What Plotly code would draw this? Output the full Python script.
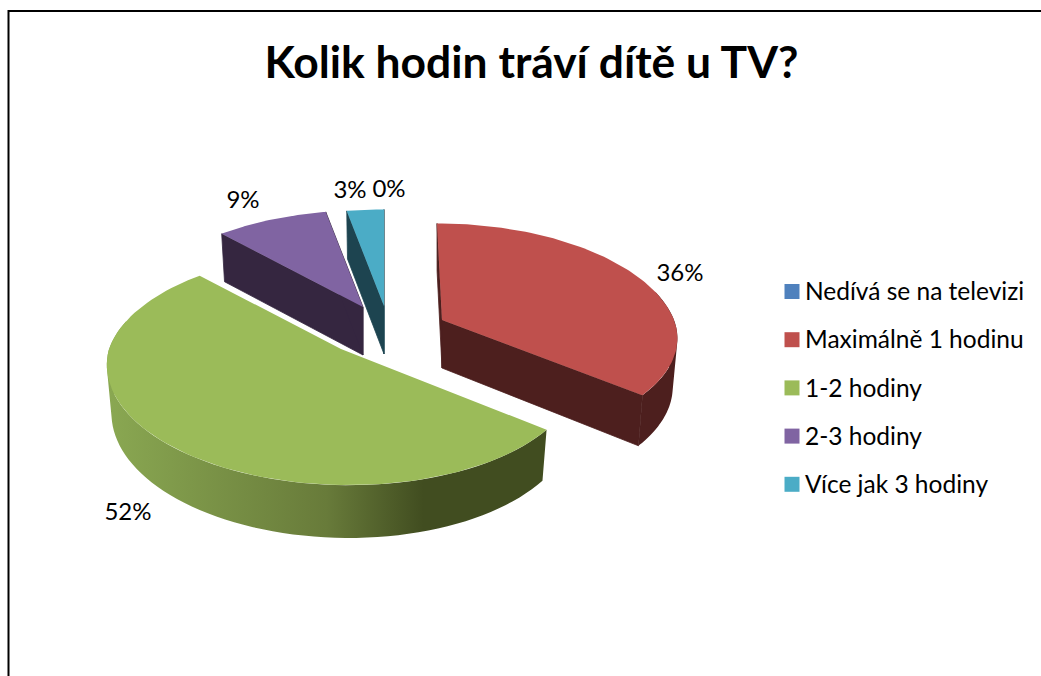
import math
import plotly.graph_objects as go

# ---- data ----
title_text = "Kolik hodin tráví dítě u TV?"
categories = ["Nedívá se na televizi", "Maximálně 1 hodinu", "1-2 hodiny", "2-3 hodiny", "Více jak 3 hodiny"]
values = [0, 36, 52, 9, 3]

# ---- styles / layout ----
top_colors = ["#4f81bd", "#bf504d", "#9bbb59", "#8064a2", "#4bacc6"]
wall_colors = ["#27405e", "#4d1f1e", "#414d20", "#352640", "#1d4450"]
FONT = "Lato"
INK = "#000000"
A, B, K = 232.0, 113.0, 0.17      # projected radii and perspective strength
DEPTH = 48.0
# per-slice screen apex after explosion: x, y, far lean, near lean, near y-scale
apex = {1: (442, 320, 5, 0, 0.93), 2: (341, 349, 0, 8, 1.0), 3: (363, 307, 0, 0, 1.0), 4: (384, 306, 0, 0, 1.0)}
label_pos = {0: (389, 191), 1: (680, 275), 2: (128, 514), 3: (243, 202), 4: (350, 192)}
legend_x, legend_text_x, legend_y0, legend_dy = 792, 805, 291.5, 48.2
legend_text_dy = 2.5

def rim(i, deg):
    ax, ay, far, near, ys = apex[i]
    t = math.radians(deg)
    X, Y = math.sin(t), -math.cos(t)
    s = 1 / (1 - K * Y)
    return (ax + A * X * s + far * min(Y, 0) + near * max(Y, 0),
            ay + B * Y * s * (ys if Y > 0 else 1))

def drop(i, pt):
    ax, ay = apex[i][:2]
    near = max((pt[1] - ay) / B, 0)
    return ax + (pt[0] - ax) * 0.98, pt[1] + DEPTH + 4 * near

def arc(i, a0, a1, n=90):
    return [rim(i, a0 + (a1 - a0) * j / n) for j in range(n + 1)]

def poly(pts, color, edge=0):
    xs = [p[0] for p in pts] + [pts[0][0]]
    ys = [p[1] for p in pts] + [pts[0][1]]
    return go.Scatter(x=xs, y=ys, mode="lines", fill="toself", line=dict(width=edge, color=color),
                      fillcolor=color, hoverinfo="skip", showlegend=False)

def strip(i, a0, a1, color, gradient=None):
    """Outer wall as one path of overlapping quads, all wound the same way."""
    pts = arc(i, a0, a1, n=70)
    xs, ys = [], []
    for p, q in zip(pts[:-1], pts[1:]):
        quad = [p, q, drop(i, q), drop(i, p)]
        area = sum(quad[j][0] * quad[(j + 1) % 4][1] - quad[(j + 1) % 4][0] * quad[j][1] for j in range(4))
        if area < 0:
            quad.reverse()
        xs += [c[0] for c in quad] + [quad[0][0], None]
        ys += [c[1] for c in quad] + [quad[0][1], None]
    kw = dict(fillgradient=gradient) if gradient else dict(fillcolor=color)
    return go.Scatter(x=xs, y=ys, mode="lines", fill="toself", line=dict(width=0),
                      hoverinfo="skip", showlegend=False, **kw)

total = sum(values)
spans, cum = {}, 0.0
for i, v in enumerate(values):
    spans[i] = (cum / total * 360, (cum + v) / total * 360)
    cum += v

fig = go.Figure()
green_grad = dict(type="horizontal",
                  colorscale=[[0, "#8aa852"], [0.5, "#687b3a"], [0.72, "#414d20"], [1, "#414d20"]])

for i in [1, 4, 3, 2]:
    a0, a1 = spans[i]
    ax, ay = apex[i][:2]
    c = (ax, ay)
    cb = (ax, ay + DEPTH)
    lo, hi = max(a0, 75), min(a1, 285)
    if hi > lo:
        fig.add_trace(strip(i, lo, hi, wall_colors[i], green_grad if i == 2 else None))
    if i != 2:  # the green slice's radial walls lie entirely behind its top
        for ang in (a0, a1):
            p = rim(i, ang)
            fig.add_trace(poly([c, p, drop(i, p), cb], wall_colors[i], edge=0.8))
    fig.add_trace(poly([c] + arc(i, a0, a1), top_colors[i]))

# percentage labels
fig.add_trace(go.Scatter(
    x=[label_pos[i][0] for i in range(5)], y=[label_pos[i][1] for i in range(5)],
    text=[f"{v}%" for v in values], mode="text", textposition="middle center",
    textfont=dict(family=FONT, size=24, color=INK), hoverinfo="skip", showlegend=False))

# legend
legend_ys = [legend_y0 + legend_dy * i for i in range(5)]
fig.add_trace(go.Scatter(
    x=[legend_x] * 5, y=legend_ys, mode="markers",
    marker=dict(symbol="square", size=15, color=top_colors),
    hoverinfo="skip", showlegend=False))
fig.add_trace(go.Scatter(
    x=[legend_text_x] * 5, y=[v + legend_text_dy for v in legend_ys], mode="text",
    text=categories, textposition="middle right",
    textfont=dict(family=FONT, size=24.5, color=INK), hoverinfo="skip", showlegend=False))

# chart frame
fig.add_shape(type="path", path="M 8.5 676 L 8.5 11 L 1041 11", line=dict(color="#000000", width=2))

fig.update_layout(
    width=1041, height=676, margin=dict(l=0, r=0, t=0, b=0), autosize=False,
    paper_bgcolor="#ffffff", plot_bgcolor="#ffffff", showlegend=False,
    xaxis=dict(range=[0, 1041], visible=False, fixedrange=True),
    yaxis=dict(range=[676, 0], visible=False, fixedrange=True),
    title=dict(text=f"<b>{title_text}</b>", x=0.5105, xanchor="center", y=0.908, yanchor="middle",
               font=dict(family=FONT, size=44.4, color=INK)),
)
fig.write_html("out.html", config={"displayModeBar": False},
               post_script="document.body.style.margin='0';document.documentElement.style.overflow='hidden';")
